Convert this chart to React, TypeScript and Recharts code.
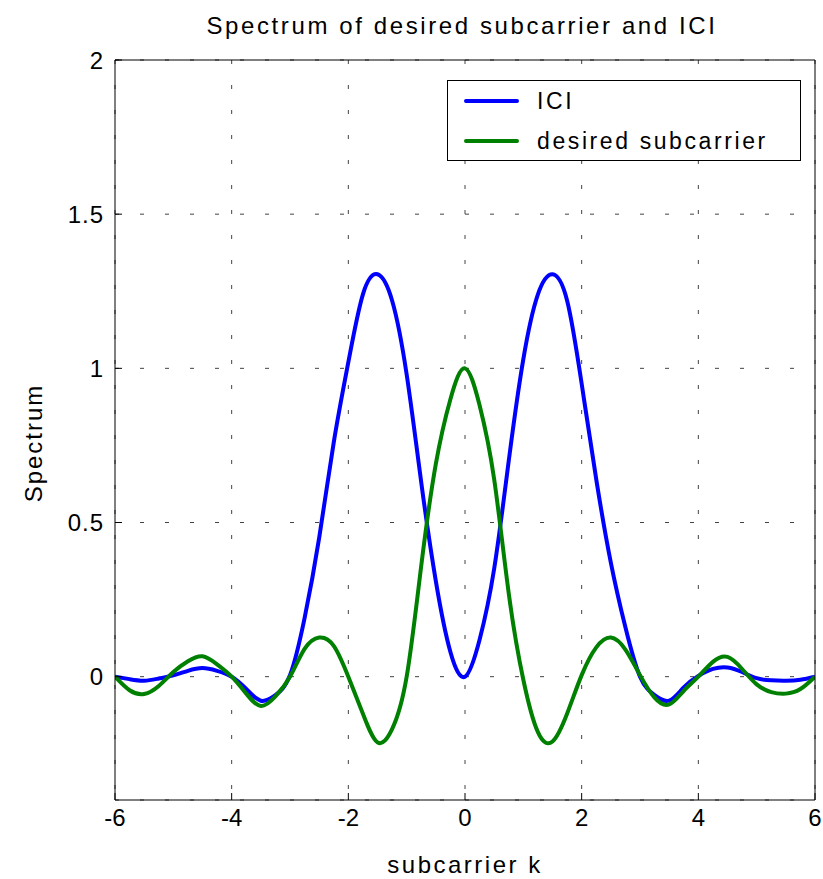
import { LineChart, Line, XAxis, YAxis, CartesianGrid, Legend } from 'recharts'

// Spectrum of desired subcarrier vs ICI

const FONT = '"Liberation Sans", Arial, Helvetica, sans-serif'

const subcarrierK = [
  -6, -5.75, -5.5, -5.25, -5, -4.75, -4.5, -4.25, -4, -3.75, -3.5, -3.25, -3,
  -2.75, -2.5, -2.25, -2, -1.75, -1.5, -1.25, -1, -0.75, -0.5, -0.25, 0,
  0.25, 0.5, 0.75, 1, 1.25, 1.5, 1.75, 2, 2.25, 2.5, 2.75, 3,
  3.25, 3.5, 3.75, 4, 4.25, 4.5, 4.75, 5, 5.25, 5.5, 5.75, 6,
]

const iciSpectrum = [
  0, -0.008, -0.013, -0.006, 0.004, 0.019, 0.028, 0.019, 0, -0.04, -0.078, -0.06, 0.005,
  0.19, 0.45, 0.76, 1.02, 1.24, 1.305, 1.22, 0.98, 0.63, 0.31, 0.08, 0,
  0.12, 0.35, 0.7, 1.03, 1.24, 1.305, 1.22, 0.95, 0.64, 0.37, 0.16, 0,
  -0.06, -0.078, -0.035, 0.002, 0.025, 0.03, 0.015, -0.005, -0.012, -0.013, -0.01, 0,
]

const desiredSpectrum = [
  0, -0.044, -0.056, -0.03, 0.015, 0.05, 0.066, 0.04, 0, -0.055, -0.095, -0.064, 0,
  0.09, 0.127, 0.1, 0, -0.12, -0.213, -0.17, 0, 0.36, 0.69, 0.9, 1,
  0.88, 0.64, 0.27, -0.01, -0.18, -0.21, -0.12, 0.005, 0.095, 0.127, 0.088, 0.005,
  -0.068, -0.09, -0.046, 0, 0.048, 0.064, 0.025, -0.025, -0.05, -0.055, -0.04, 0,
]

const xTicks = [-6, -4, -2, 0, 2, 4, 6]
const yTicks = [0, 0.5, 1, 1.5, 2]

const rows = subcarrierK.map((k, i) => ({
  k,
  ici: iciSpectrum[i],
  desired: desiredSpectrum[i],
}))

const seriesList = [
  { key: 'ici', name: 'ICI', color: '#0000ff' },
  { key: 'desired', name: 'desired subcarrier', color: '#008000' },
]

function LegendBox() {
  return (
    <div
      style={{
        width: 352,
        height: 79,
        border: '1px solid #000',
        background: '#fff',
        fontFamily: FONT,
        fontSize: 23,
        letterSpacing: '2.6px',
        color: '#000',
        position: 'relative',
      }}
    >
      {seriesList.map((s, i) => (
        <div
          key={s.key}
          style={{ position: 'absolute', left: 0, top: 20 + i * 40 - 14, height: 28, display: 'flex', alignItems: 'center' }}
        >
          <div style={{ marginLeft: 16, width: 55, height: 4, borderRadius: 2, background: s.color }} />
          <span style={{ marginLeft: 18, whiteSpace: 'nowrap' }}>{s.name}</span>
        </div>
      ))}
    </div>
  )
}

function YTitle() {
  return (
    <text
      x={33}
      y={443}
      transform="rotate(-90, 33, 443)"
      textAnchor="middle"
      dominantBaseline="central"
      fontFamily={FONT}
      fontSize={24}
      fill="#000"
      style={{ letterSpacing: '2px' }}
    >
      Spectrum
    </text>
  )
}

export default function App() {
  return (
    <div style={{ position: 'absolute', left: 0, top: 0, width: 823, height: 879, background: '#fff' }}>
      <div
        style={{
          position: 'absolute',
          left: 112,
          top: 11,
          width: 700,
          textAlign: 'center',
          fontFamily: FONT,
          fontSize: 24,
          lineHeight: '30px',
          letterSpacing: '2.6px',
          color: '#000',
        }}
      >
        Spectrum of desired subcarrier and ICI
      </div>
      <LineChart width={823} height={879} data={rows} margin={{ top: 59, right: 7, bottom: 0, left: 0 }}>
        <CartesianGrid stroke="#444" strokeDasharray="4 21" />
        <XAxis
          dataKey="k"
          type="number"
          domain={[-6, 6]}
          ticks={xTicks}
          interval={0}
          allowDataOverflow
          height={79}
          tickSize={-7}
          tickMargin={16}
          axisLine={{ stroke: '#000' }}
          tickLine={{ stroke: '#000' }}
          tick={{ fontSize: 24, fill: '#000', fontFamily: FONT }}
          label={{ value: 'subcarrier k', position: 'insideBottom', offset: 6, fontSize: 24, fill: '#000', fontFamily: FONT, style: { letterSpacing: '2.5px' } }}
        />
        <XAxis
          xAxisId="top"
          orientation="top"
          dataKey="k"
          type="number"
          domain={[-6, 6]}
          ticks={xTicks}
          interval={0}
          allowDataOverflow
          height={1}
          tickSize={-7}
          tick={false}
          axisLine={{ stroke: '#000' }}
          tickLine={{ stroke: '#000' }}
        />
        <YAxis
          type="number"
          domain={[-0.4, 2]}
          ticks={yTicks}
          interval={0}
          allowDataOverflow
          width={115}
          tickSize={-7}
          tickMargin={18}
          axisLine={{ stroke: '#000' }}
          tickLine={{ stroke: '#000' }}
          tick={{ fontSize: 24, fill: '#000', fontFamily: FONT, style: { letterSpacing: '1px' } }}
          label={<YTitle />}
        />
        <YAxis
          yAxisId="right"
          orientation="right"
          type="number"
          domain={[-0.4, 2]}
          ticks={yTicks}
          interval={0}
          allowDataOverflow
          width={1}
          tickSize={-7}
          tick={false}
          axisLine={{ stroke: '#000' }}
          tickLine={{ stroke: '#000' }}
        />
        <Legend
          layout="vertical"
          align="center"
          verticalAlign="middle"
          wrapperStyle={{ left: 447, top: 80, width: 354 }}
          content={() => <LegendBox />}
        />
        {seriesList.map((s) => (
          <Line
            key={s.key}
            dataKey={s.key}
            name={s.name}
            type="natural"
            stroke={s.color}
            strokeWidth={4}
            dot={false}
            activeDot={false}
            isAnimationActive={false}
          />
        ))}
      </LineChart>
    </div>
  )
}
